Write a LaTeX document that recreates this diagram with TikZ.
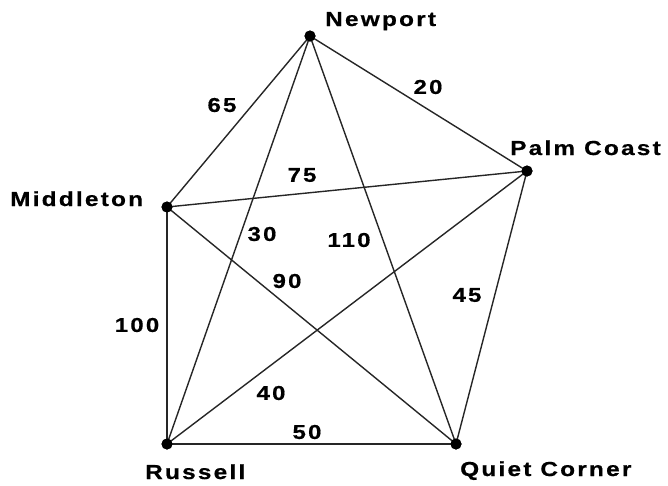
\documentclass[tikz,border=0pt]{standalone}
\usepackage{fontspec}
\newfontfamily\labfont[FakeStretch=1.2,LetterSpace=11,FakeBold=0.6]{Liberation Sans Bold}
\begin{document}
\begin{tikzpicture}[x=1pt,y=-1pt,
  vtx/.style={circle,fill=black,inner sep=0pt,minimum size=11pt},
  edge/.style={line width=1.4pt,black!85},
  lab/.style={font=\labfont\fontsize{20.3}{22}\selectfont,inner sep=0pt},
  num/.style={font=\labfont\fontsize{20}{22}\selectfont,inner sep=0pt}]
\useasboundingbox (0,0) rectangle (668,485);
\node[vtx] (N) at (310,36) {};
\node[vtx] (P) at (527,171) {};
\node[vtx] (M) at (167,207) {};
\node[vtx] (R) at (167,444) {};
\node[vtx] (Q) at (456,444) {};
\draw[edge] (N.center) -- (M.center);
\draw[edge] (N.center) -- (P.center);
\draw[edge] (N.center) -- (R.center);
\draw[edge] (N.center) -- (Q.center);
\draw[edge] (M.center) -- (P.center);
\draw[edge] (M.center) -- (R.center);
\draw[edge] (M.center) -- (Q.center);
\draw[edge] (P.center) -- (R.center);
\draw[edge] (P.center) -- (Q.center);
\draw[edge] (R.center) -- (Q.center);
\foreach \v in {N,P,M,R,Q} \node[vtx] at (\v) {};
\node[lab,anchor=base west] (tN) at (325,26) {Newport};
\node[lab,anchor=base west] (tP) at (510,155) {Palm Coast};
\node[lab,anchor=base west] (tM) at (10,206) {Middleton};
\node[lab,anchor=base west] (tR) at (145,479) {Russell};
\node[lab,anchor=base west] (tQ) at (460,476) {Quiet Corner};
\node[num] (e65) at (222,105) {65};
\node[num] (e20) at (428,87) {20};
\node[num] (e75) at (302,175) {75};
\node[num] (e30) at (262,234) {30};
\node[num] (e110) at (349,240) {110};
\node[num] (e90) at (287,281) {90};
\node[num] (e45) at (467,295) {45};
\node[num] (e100) at (137,325) {100};
\node[num] (e40) at (271,393) {40};
\node[num] (e50) at (307,432) {50};
\end{tikzpicture}
\end{document}
